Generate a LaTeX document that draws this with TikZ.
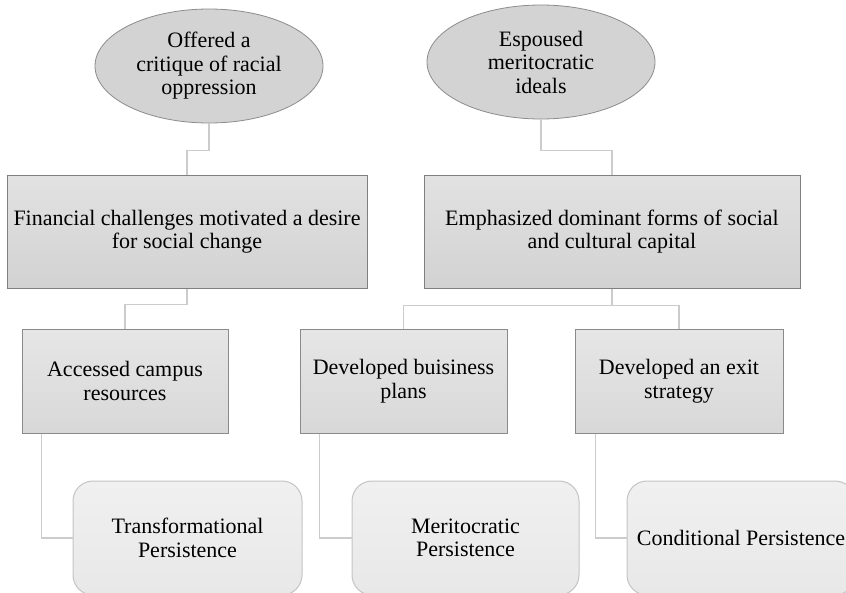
\documentclass[tikz,border=0pt]{standalone}
\usepackage{fontspec}
\setmainfont{Liberation Serif}
\usetikzlibrary{shapes.geometric}
\definecolor{ellfill}{HTML}{D3D3D3}
\definecolor{ellline}{HTML}{8C8C8C}
\definecolor{boxtop}{HTML}{E2E2E2}
\definecolor{boxbot}{HTML}{D2D2D2}
\definecolor{boxline}{HTML}{7F7F7F}
\definecolor{midtop}{HTML}{E6E6E6}
\definecolor{midbot}{HTML}{D8D8D8}
\definecolor{midline}{HTML}{8A8A8A}
\definecolor{rtop}{HTML}{F0F0F0}
\definecolor{rbot}{HTML}{E8E8E8}
\definecolor{rline}{HTML}{C4C4C4}
\definecolor{connc}{HTML}{CCCCCC}
\begin{document}
\begin{tikzpicture}[x=1pt,y=-1pt,
  font=\fontsize{22}{23.5}\selectfont,
  every node/.style={align=center, inner sep=0pt, text=black},
  ellnode/.style={ellipse, draw=ellline, line width=0.8pt, fill=ellfill,
    minimum width=228pt, minimum height=114pt},
  topbox/.style={rectangle, draw=boxline, line width=1pt, top color=boxtop, bottom color=boxbot,
    minimum height=113pt},
  midbox/.style={rectangle, draw=midline, line width=1pt, top color=midtop, bottom color=midbot,
    minimum height=104pt},
  endbox/.style={rectangle, rounded corners=20pt, draw=rline, line width=1pt, top color=rtop, bottom color=rbot,
    minimum height=114pt},
  conn/.style={draw=connc, line width=1.5pt}]
\clip (0,0) rectangle (846,592);
\fill[white] (0,0) rectangle (846,592);

\node[ellnode] (e1) at (209,66) {Offered a\\critique of racial\\oppression};
\node[ellnode] (e2) at (541,62) {Espoused\\meritocratic\\ideals};

\node[topbox, minimum width=360pt] (b1) at (187,231.5) {Financial challenges motivated a desire\\for social change};
\node[topbox, minimum width=376pt] (b2) at (612,231.5) {Emphasized dominant forms of social\\and cultural capital};

\node[midbox, minimum width=206pt] (b3) at (125,381) {Accessed campus\\resources};
\node[midbox, minimum width=207pt] (b4) at (403.5,381) {Developed buisiness\\plans};
\node[midbox, minimum width=208pt] (b5) at (679,381) {Developed an exit\\strategy};

\node[endbox, minimum width=229pt] (r6) at (187.5,538) {Transformational\\Persistence};
\node[endbox, minimum width=227pt] (r7) at (465.5,538) {Meritocratic\\Persistence};
\node[endbox, minimum width=228pt] (r8) at (741,538) {Conditional Persistence};

\draw[conn] (e1.south) |- ([yshift=24pt]b1.north) -- (b1.north);
\draw[conn] (e2.south) |- ([yshift=24pt]b2.north) -- (b2.north);

\draw[conn] (b1.south) -- ([yshift=-16pt]b1.south) -| (b3.north);
\draw[conn] (b2.south) -- ([yshift=-17pt]b2.south);
\draw[conn] (b4.north) |- ([yshift=-17pt]b2.south) -| (b5.north);

\draw[conn] ([xshift=20pt]b3.south west) |- (r6.west);
\draw[conn] ([xshift=20pt]b4.south west) |- (r7.west);
\draw[conn] ([xshift=21pt]b5.south west) |- (r8.west);
\end{tikzpicture}
\end{document}
